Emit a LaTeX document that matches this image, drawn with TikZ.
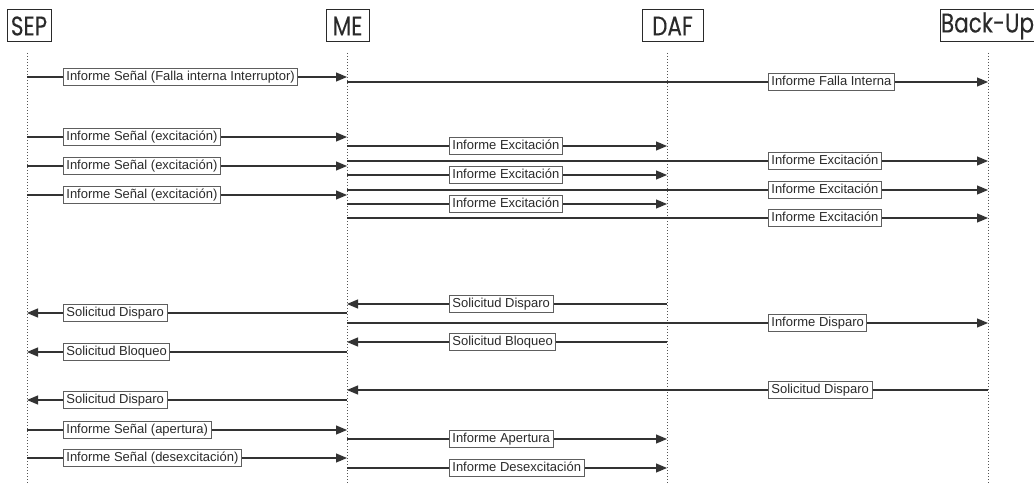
\documentclass[tikz,border=0pt]{standalone}
\usepackage{fontspec}
\setmainfont{Liberation Sans}
\newfontfamily\hdrfont[FakeStretch=0.8, FakeBold=0.15]{Poppins}
\usetikzlibrary{arrows.meta}

\definecolor{ink}{HTML}{2A2A2A}
\definecolor{rule}{HTML}{333333}
\definecolor{frame}{HTML}{5E5E5E}
\definecolor{life}{HTML}{555555}

\tikzset{
  actor/.style={draw=ink, line width=1pt, text=ink, inner sep=0pt,
    minimum height=32pt, font=\hdrfont\fontsize{27}{27}\selectfont},
  lifeline/.style={draw=life, line width=1pt, dotted},
  msg/.style={draw=rule, line width=1.2pt,
    -{Triangle[length=11pt,width=9pt]}},
  lbl/.style={draw=frame, line width=0.8pt, fill=white, text=ink,
    anchor=west, inner xsep=3pt, inner ysep=2.4pt,
    text height=9.6pt, text depth=2.8pt,
    font=\fontsize{13}{13}\selectfont},
}

% one message: from lifeline #1 to lifeline #2 at height #3,
% label box #6 starting at x = #4 with text #5
\newcommand\sendmsg[6]{%
  \draw[msg] (#1 |- 0,#3) -- (#2 |- 0,#3);
  \node[lbl] (#6) at (#4,#3) {#5};}

\begin{document}
\begin{tikzpicture}[x=1pt, y=-1pt]
\useasboundingbox (0,0) rectangle (1034,484);

% participants
\node[actor, minimum width=44pt] (hsep) at (29,26) {SEP};
\node[actor, minimum width=43pt] (hme)  at (347.5,26) {ME};
\node[actor, minimum width=61pt] (hdaf) at (672.5,26) {DAF};
\node[actor, minimum width=91pt] (hbu)  at (987.5,26) {Back-Up};

% lifeline tops and bottoms
\coordinate (sep) at (27,53);   \coordinate (sepE) at (27,484);
\coordinate (me)  at (347,53);  \coordinate (meE)  at (347,484);
\coordinate (daf) at (667,53);  \coordinate (dafE) at (667,484);
\coordinate (bu)  at (988,53);  \coordinate (buE)  at (988,484);

\draw[lifeline] (sep) -- (sepE);
\draw[lifeline] (me)  -- (meE);
\draw[lifeline] (daf) -- (dafE);
\draw[lifeline] (bu)  -- (buE);

% internal failure
\sendmsg{sep}{me}{77}{63}{Informe Señal (Falla interna Interruptor)}{m1}
\sendmsg{me}{bu}{82}{768}{Informe Falla Interna}{m2}

% excitation reports
\sendmsg{sep}{me}{137}{63}{Informe Señal (excitación)}{m3}
\sendmsg{me}{daf}{146}{449}{Informe Excitación}{m4}
\sendmsg{me}{bu}{161}{768}{Informe Excitación}{m5}
\sendmsg{sep}{me}{166}{63}{Informe Señal (excitación)}{m6}
\sendmsg{me}{daf}{175}{449}{Informe Excitación}{m7}
\sendmsg{me}{bu}{190}{768}{Informe Excitación}{m8}
\sendmsg{sep}{me}{195}{63}{Informe Señal (excitación)}{m9}
\sendmsg{me}{daf}{204}{449}{Informe Excitación}{m10}
\sendmsg{me}{bu}{218}{768}{Informe Excitación}{m11}

% trip and block requests
\sendmsg{daf}{me}{304}{449}{Solicitud Disparo}{m12}
\sendmsg{me}{sep}{313}{63}{Solicitud Disparo}{m13}
\sendmsg{me}{bu}{323}{768}{Informe Disparo}{m14}
\sendmsg{daf}{me}{342}{449}{Solicitud Bloqueo}{m15}
\sendmsg{me}{sep}{352}{63}{Solicitud Bloqueo}{m16}
\sendmsg{bu}{me}{390}{768}{Solicitud Disparo}{m17}
\sendmsg{me}{sep}{400}{63}{Solicitud Disparo}{m18}

% opening and de-excitation
\sendmsg{sep}{me}{430}{63}{Informe Señal (apertura)}{m19}
\sendmsg{me}{daf}{439}{449}{Informe Apertura}{m20}
\sendmsg{sep}{me}{458}{63}{Informe Señal (desexcitación)}{m21}
\sendmsg{me}{daf}{468}{449}{Informe Desexcitación}{m22}
\end{tikzpicture}
\end{document}
